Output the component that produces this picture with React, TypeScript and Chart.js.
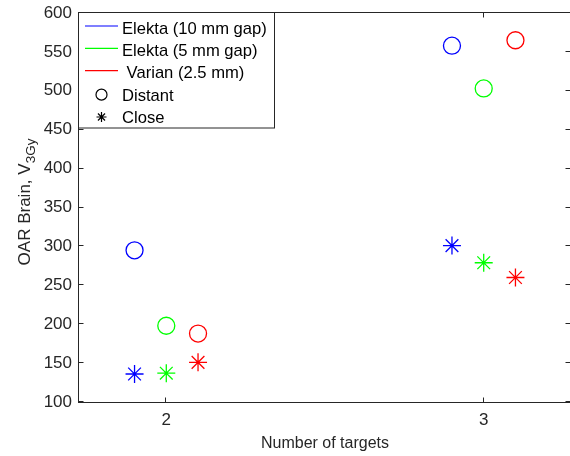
import React, { useEffect, useRef } from 'react';
import { Chart, registerables } from 'chart.js';

Chart.register(...registerables);

const targets = [2, 3];
const systemNames = ['Elekta (10 mm gap)', 'Elekta (5 mm gap)', ' Varian (2.5 mm)'];
const systemColors = ['#0000ff', '#00ff00', '#ff0000'];
const systemOffsets = [-0.1, 0, 0.1];
const distantElekta10 = [295, 558];
const closeElekta10 = [136, 301];
const distantElekta5 = [198, 503];
const closeElekta5 = [137, 279];
const distantVarian = [188, 565];
const closeVarian = [151, 260];
const markerNames = ['Distant', 'Close'];
const xTicks = [2, 3];
const yTicks = [100, 150, 200, 250, 300, 350, 400, 450, 500, 550, 600];
const xTitle = 'Number of targets';
const yTitleMain = 'OAR Brain, V';
const yTitleSub = '3Gy';

const FONT = '"Liberation Sans", Arial, Helvetica, sans-serif';
const AXIS_COLOR = '#262626';

const distantSeries = [distantElekta10, distantElekta5, distantVarian];
const closeSeries = [closeElekta10, closeElekta5, closeVarian];

function drawStar(ctx: CanvasRenderingContext2D, x: number, y: number, r: number) {
  ctx.beginPath();
  for (let k = 0; k < 4; k++) {
    const a = (k * Math.PI) / 4;
    const dx = Math.cos(a) * r;
    const dy = Math.sin(a) * r;
    ctx.moveTo(x - dx, y - dy);
    ctx.lineTo(x + dx, y + dy);
  }
  ctx.stroke();
}

const matlabPlugin = {
  id: 'matlabAxes',
  afterDraw(chart: any) {
    const ctx: CanvasRenderingContext2D = chart.ctx;
    const { left, right, top, bottom } = chart.chartArea;
    const xs = chart.scales.x;
    const ys = chart.scales.y;
    ctx.save();
    // box
    ctx.strokeStyle = AXIS_COLOR;
    ctx.lineWidth = 1;
    ctx.strokeRect(left - 0.5, top - 0.5, right - left, bottom - top + 1);
    // inward ticks
    const tl = 5;
    ctx.beginPath();
    yTicks.forEach((v) => {
      const py = Math.round(ys.getPixelForValue(v)) - 0.5;
      ctx.moveTo(left - 0.5, py);
      ctx.lineTo(left - 0.5 + tl, py);
      ctx.moveTo(right - 0.5, py);
      ctx.lineTo(right - 0.5 - tl, py);
    });
    xTicks.forEach((v) => {
      const px = Math.round(xs.getPixelForValue(v)) - 0.5;
      ctx.moveTo(px, bottom + 0.5);
      ctx.lineTo(px, bottom + 0.5 - tl);
      ctx.moveTo(px, top - 0.5);
      ctx.lineTo(px, top - 0.5 + tl);
    });
    ctx.stroke();

    // x title
    ctx.fillStyle = AXIS_COLOR;
    ctx.font = `16px ${FONT}`;
    ctx.textAlign = 'center';
    ctx.textBaseline = 'alphabetic';
    ctx.fillText(xTitle, (left + right) / 2, 448);

    // y title with subscript
    const mainFont = `17px ${FONT}`;
    const subFont = `13.5px ${FONT}`;
    ctx.font = mainFont;
    const wMain = ctx.measureText(yTitleMain).width;
    ctx.font = subFont;
    const wSub = ctx.measureText(yTitleSub).width;
    const total = wMain + wSub;
    ctx.translate(30, (top + bottom) / 2 - 5.5);
    ctx.rotate(-Math.PI / 2);
    ctx.textAlign = 'left';
    ctx.font = mainFont;
    ctx.fillText(yTitleMain, -total / 2, 0);
    ctx.font = subFont;
    ctx.fillText(yTitleSub, -total / 2 + wMain, 5);
    ctx.setTransform(1, 0, 0, 1, 0, 0);

    // legend
    const bx = left - 0.5;
    const by = top - 0.5;
    const bw = 196;
    const bh = 115.5;
    ctx.fillStyle = '#ffffff';
    ctx.fillRect(bx, by, bw, bh);
    ctx.strokeStyle = AXIS_COLOR;
    ctx.lineWidth = 1;
    ctx.strokeRect(bx, by, bw, bh);
    const baseline0 = top + 20.6;
    const step = 22.35;
    ctx.font = `16.6px ${FONT}`;
    ctx.textAlign = 'left';
    ctx.textBaseline = 'alphabetic';
    const labels = [...systemNames, ...markerNames];
    labels.forEach((lab, i) => {
      const bl = baseline0 + i * step;
      if (i < systemNames.length) {
        ctx.strokeStyle = systemColors[i];
        ctx.lineWidth = 1.2;
        ctx.beginPath();
        ctx.moveTo(left + 6, bl - 7.6);
        ctx.lineTo(left + 39, bl - 7.6);
        ctx.stroke();
      } else {
        ctx.strokeStyle = '#000000';
        ctx.lineWidth = 1.2;
        const mx = left + 22.5;
        const my = bl - 6;
        if (i === systemNames.length) {
          ctx.beginPath();
          ctx.arc(mx, my, 5.5, 0, Math.PI * 2);
          ctx.stroke();
        } else {
          drawStar(ctx, mx, my, 5);
        }
      }
      ctx.fillStyle = '#000000';
      ctx.fillText(lab, left + 43, bl);
    });
    ctx.restore();
  },
};

export default function App() {
  const canvasRef = useRef<HTMLCanvasElement | null>(null);

  useEffect(() => {
    const datasets: any[] = [];
    systemNames.forEach((name, i) => {
      datasets.push({
        label: name + ' distant',
        data: targets.map((t, j) => ({ x: t + systemOffsets[i], y: distantSeries[i][j] })),
        pointStyle: 'circle',
        pointRadius: 8.5,
        pointBorderWidth: 1.3,
        borderColor: systemColors[i],
        backgroundColor: 'rgba(0,0,0,0)',
        showLine: false,
      });
      datasets.push({
        label: name + ' close',
        data: targets.map((t, j) => ({ x: t + systemOffsets[i], y: closeSeries[i][j] })),
        pointStyle: 'star',
        pointRadius: 9,
        pointBorderWidth: 1.3,
        borderColor: systemColors[i],
        backgroundColor: systemColors[i],
        showLine: false,
      });
    });

    const chart = new Chart(canvasRef.current as HTMLCanvasElement, {
      type: 'scatter',
      data: { datasets },
      options: {
        animation: false,
        responsive: true,
        maintainAspectRatio: false,
        devicePixelRatio: 1,
        layout: { autoPadding: false, padding: { top: 13, right: 1, left: 0, bottom: 0 } },
        plugins: {
          legend: { display: false },
          tooltip: { enabled: false },
        },
        scales: {
          x: {
            type: 'linear',
            min: 1.725,
            max: 3.275,
            afterBuildTicks: (s: any) => {
              s.ticks = xTicks.map((v) => ({ value: v }));
            },
            afterFit: (s: any) => {
              s.height = 54;
              s.paddingLeft = 0;
              s.paddingRight = 0;
            },
            grid: { display: false, drawTicks: false },
            border: { display: false },
            ticks: {
              padding: 8,
              color: AXIS_COLOR,
              font: { family: FONT, size: 17 },
              maxRotation: 0,
              autoSkip: false,
            },
          },
          y: {
            type: 'linear',
            min: 100,
            max: 600,
            afterBuildTicks: (s: any) => {
              s.ticks = yTicks.map((v) => ({ value: v }));
            },
            afterFit: (s: any) => {
              s.width = 79;
              s.paddingTop = 0;
              s.paddingBottom = 0;
            },
            grid: { display: false, drawTicks: false },
            border: { display: false },
            ticks: {
              padding: 7,
              color: AXIS_COLOR,
              font: { family: FONT, size: 17 },
              autoSkip: false,
            },
          },
        },
      },
      plugins: [matlabPlugin],
    });
    return () => chart.destroy();
  }, []);

  return (
    <div style={{ position: 'fixed', left: 0, top: 0, width: 570, height: 456, overflow: 'hidden', background: '#fff' }}>
      <div style={{ position: 'absolute', left: 0, top: 0, width: 572, height: 456 }}>
        <canvas ref={canvasRef} />
      </div>
    </div>
  );
}
